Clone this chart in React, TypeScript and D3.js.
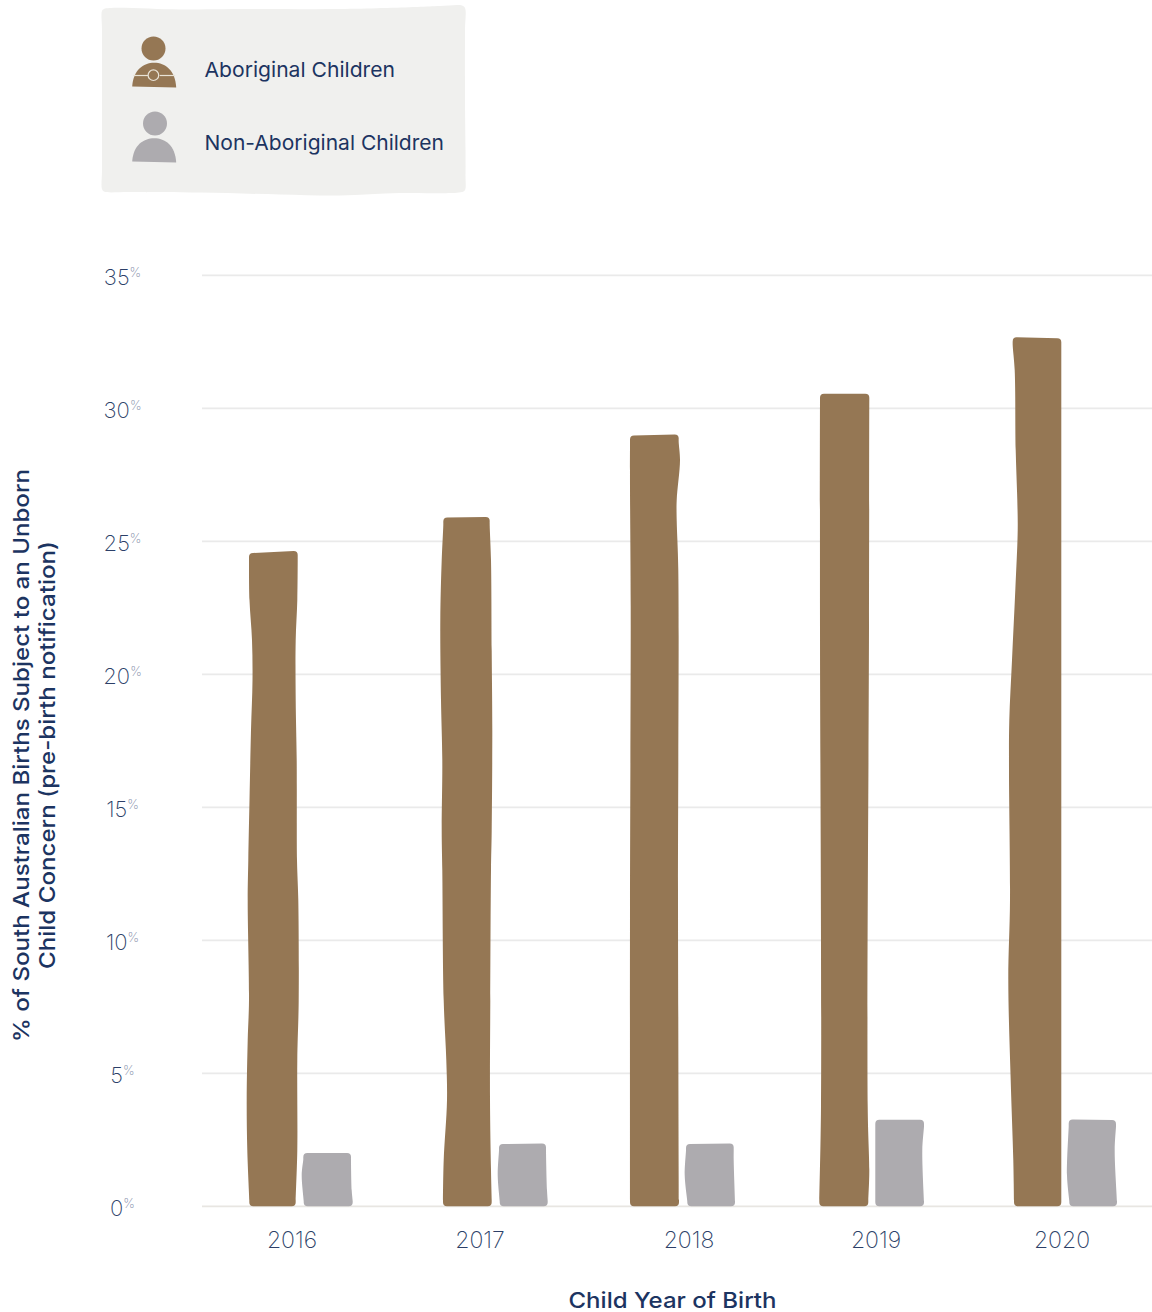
import React from "react";
import * as d3 from "d3";

// Chart values
const years = ["2016", "2017", "2018", "2019", "2020"];
const seriesNames = ["Aboriginal Children", "Non-Aboriginal Children"];
const aboriginal = [24.6, 25.9, 29.0, 30.55, 32.65];
const nonAboriginal = [2.0, 2.35, 2.35, 3.25, 3.25];
const yTicks = [0, 5, 10, 15, 20, 25, 30, 35];

// Hand-drawn outline of each bar: [pixels above the baseline, sideways offset from the band edge]
type Edge = [number, number][];
const brownLeft: Edge[] = [
  [[6, 0.3], [56, -1.7], [106, -2.3], [166, -1.3], [206, 0], [306, -1.3], [346, -0.7], [406, 0.5], [476, 2], [526, 3.5], [566, 3], [606, 0.5], [646, 0]],
  [[6, 3], [46, 3.7], [106, 7], [146, 6.3], [206, 3.7], [336, 2.3], [376, 1.7], [446, 2.3], [506, 1], [586, 0.3], [646, 1.7], [681, 3.3]],
  [[6, -1], [300, -1], [600, -0.3], [720, -1], [760, -1]],
  [[6, -2.7], [100, -1], [580, -2], [805, -2]],
  [[6, 1], [46, 0.3], [126, -2.3], [226, -4.7], [306, -3], [436, -4], [486, -3.7], [546, -1], [616, 2.3], [676, 4.7], [706, 4.3], [756, 2.7], [836, 1.7], [861, -0.3]],
];
const brownRight: Edge[] = [
  [[6, -1.8], [56, -0.2], [146, -0.2], [206, 1.2], [306, 0.8], [346, -0.5], [446, -0.8], [506, -1.8], [566, -1.8], [606, -0.2], [646, 0.2]],
  [[6, 3.2], [36, 2.5], [106, 1.5], [206, 1.8], [336, 2.5], [376, 3.2], [476, 3.8], [556, 3.2], [646, 2.5], [681, 1.2]],
  [[6, -0.5], [300, -1.5], [636, -1.2], [686, -2.8], [706, -2.8], [746, 0.5], [764, -0.8]],
  [[6, -2.2], [35, -1.2], [100, -2.8], [580, -1.5], [805, -1.2]],
  [[6, -0.2], [400, -0.2], [861, -0.2]],
];
const greyLeft: Edge[] = [
  [[5, 0.2], [31, -1.8], [47, -0.2]],
  [[5, 5.2], [31, 3.2], [56, 4.5]],
  [[5, 1.8], [31, -0.8], [56, 0.5]],
  [[5, -1.2], [80, -1.2]],
  [[5, 1.8], [31, -0.5], [80, 1.2]],
];
const greyRight: Edge[] = [
  [[5, 0.7], [16, -0.3], [47, -1]],
  [[5, 4.7], [16, 4], [56, 3]],
  [[5, 1], [46, -0.3], [56, -0.3]],
  [[5, -1], [56, -2.7], [80, -1]],
  [[5, 1], [56, -1.3], [80, 0]],
];
// Slant of each bar's top edge, in pixels
const brownTilt = [2, 0.5, 1, 0, -1];
const greyTilt = [0, 0.5, 0.5, 0, -0.5];
// Sideways nudge of each year label from the centre of its group
const yearNudge = [-8.5, -11.5, 6.5, 2.5, -2.5];

const BROWN = "#957754";
const GREY = "#adabaf";
const NAVY = "#1c3461";
const TICK = "#2c3f68";
const FONT = "Inter, 'Open Sans', sans-serif";

const y = d3.scaleLinear().domain([0, 35]).range([1206.3, 275.3]);
const groupX = d3.scaleBand<string>().domain(years).range([249, 1116]).paddingInner(1 - 103 / 191).paddingOuter(0);
const barX = d3.scaleBand<number>().domain([0, 1]).range([0, 103]).paddingInner(6 / 54.5).paddingOuter(0);

const edgeLine = d3.line<[number, number]>().x(d => d[0]).y(d => d[1]).curve(d3.curveCatmullRom.alpha(0.5));

// Builds one wobbly bar outline with softly rounded corners.
function barPath(x0: number, w: number, value: number, left: Edge, right: Edge, tilt: number) {
  const base = y(0);
  const r = 4;
  const topL = y(value) + tilt / 2;
  const topR = y(value) - tilt / 2;
  const lPts = left.map(([h, dx]) => [x0 + dx, base - h] as [number, number]).filter(p => p[1] > topL + r + 1);
  const rPts = right.map(([h, dx]) => [x0 + w + dx, base - h] as [number, number]).filter(p => p[1] > topR + r + 1);
  const lEnd = lPts[lPts.length - 1][0];
  const rEnd = rPts[rPts.length - 1][0];
  const lStart = lPts[0][0];
  const rStart = rPts[0][0];
  const lFull: [number, number][] = [[lStart, base - r], ...lPts, [lEnd, topL + r]];
  const rFull: [number, number][] = [[rEnd, topR + r], ...rPts.slice().reverse(), [rStart, base - r]];
  return [
    `M${lStart + r},${base}`,
    `Q${lStart},${base} ${lStart},${base - r}`,
    edgeLine(lFull)!.replace(/^M/, "L"),
    `Q${lEnd},${topL} ${lEnd + r},${topL}`,
    `L${rEnd - r},${topR}`,
    `Q${rEnd},${topR} ${rEnd},${topR + r}`,
    edgeLine(rFull)!.replace(/^M/, "L"),
    `Q${rStart},${base} ${rStart - r},${base}`,
    "Z",
  ].join(" ");
}

// Outline of the legend panel
const panelOutline: [number, number][] = [
  [104, 9], [180, 9.5], [250, 9], [340, 9], [417, 7], [440, 6], [462, 5.5], [465, 8],
  [465, 30], [465, 100], [465.5, 150], [465.5, 175], [465, 190], [462, 192], [400, 193], [340, 195.5],
  [280, 194.5], [200, 192.5], [130, 192], [104, 191.5], [102, 189], [102, 170], [102, 100], [102, 30], [102, 11],
];
const panelPath = d3.line().curve(d3.curveCatmullRomClosed.alpha(0.5))(panelOutline)!;

function Person({ cx, headY, topY, bottomY, fill, marked }: { cx: number; headY: number; topY: number; bottomY: number; fill: string; marked?: boolean }) {
  const hw = 22;
  const bodyCx = 154.2;
  const h = bottomY - topY;
  const body = `M${bodyCx - hw},${bottomY - 1} C${bodyCx - hw + 1},${topY + h * 0.3} ${bodyCx - 11},${topY} ${bodyCx},${topY} C${bodyCx + 11},${topY} ${bodyCx + hw - 1},${topY + h * 0.3} ${bodyCx + hw},${bottomY} Z`;
  return (
    <g>
      <circle cx={cx} cy={headY} r={12} fill={fill} />
      <path d={body} fill={fill} />
      {marked && (
        <g stroke="#e9e3d6" strokeWidth={1.2}>
          <line x1={bodyCx - 21} x2={bodyCx - 5.5} y1={75.5} y2={75.5} />
          <line x1={bodyCx + 5.5} x2={bodyCx + 21} y1={75.5} y2={75.5} />
          <circle cx={bodyCx - 0.8} cy={75.2} r={5.3} fill={fill} />
        </g>
      )}
    </g>
  );
}

export default function App() {
  return (
    <svg width={1152} height={1312} viewBox="0 0 1152 1312" style={{ position: "absolute", left: 0, top: 0, background: "#fff" }} fontFamily={FONT}>
      {/* Legend */}
      <path d={panelPath} fill="#f0f0ee" />
      <Person cx={153.5} headY={48.5} topY={62.7} bottomY={87.5} fill={BROWN} marked />
      <Person cx={155} headY={123.5} topY={138.3} bottomY={162.5} fill={GREY} />
      <text x={204.5} y={77} fontSize={20.5} fill={NAVY} textLength={190.5} lengthAdjust="spacingAndGlyphs">{seriesNames[0]}</text>
      <text x={204.5} y={150} fontSize={20.5} fill={NAVY} textLength={239.5} lengthAdjust="spacingAndGlyphs">{seriesNames[1]}</text>

      {/* Grid and value axis */}
      {yTicks.map(t => (
        <g key={t}>
          <line x1={202} x2={1152} y1={y(t)} y2={y(t)} stroke={t === 0 ? "#e8e6e2" : "#eaeaea"} strokeWidth={1.8} />
          <text x={122.5} y={y(t) + 9.5} textAnchor="middle" fontSize={22} fontWeight={200} fill={TICK}>
            {t}
            <tspan fontSize={13} fontWeight={200} dy={-7.5} fill="#7f8ca8">%</tspan>
          </text>
        </g>
      ))}

      {/* Bars */}
      {years.map((year, i) => {
        const x0 = groupX(year)!;
        const w = barX.bandwidth();
        return (
          <g key={year}>
            <path d={barPath(x0 + barX(0)!, w, aboriginal[i], brownLeft[i], brownRight[i], brownTilt[i])} fill={BROWN} />
            <path d={barPath(x0 + barX(1)!, w, nonAboriginal[i], greyLeft[i], greyRight[i], greyTilt[i])} fill={GREY} />
            <text x={x0 + groupX.bandwidth() / 2 + yearNudge[i]} y={1248.3} textAnchor="middle" fontSize={23} fontWeight={200} fill={TICK}>{year}</text>
          </g>
        );
      })}

      {/* Axis titles */}
      <text x={672.5} y={1308} textAnchor="middle" fontSize={22} fontWeight={550} fill={NAVY} textLength={208} lengthAdjust="spacingAndGlyphs">Child Year of Birth</text>
      <g transform="rotate(-90)" fontSize={22} fontWeight={550} fill={NAVY} textAnchor="middle">
        <text x={-755.5} y={29} textLength={573} lengthAdjust="spacingAndGlyphs">% of South Australian Births Subject to an Unborn</text>
        <text x={-755} y={54.5} textLength={428} lengthAdjust="spacingAndGlyphs">Child Concern (pre-birth notification)</text>
      </g>
    </svg>
  );
}
